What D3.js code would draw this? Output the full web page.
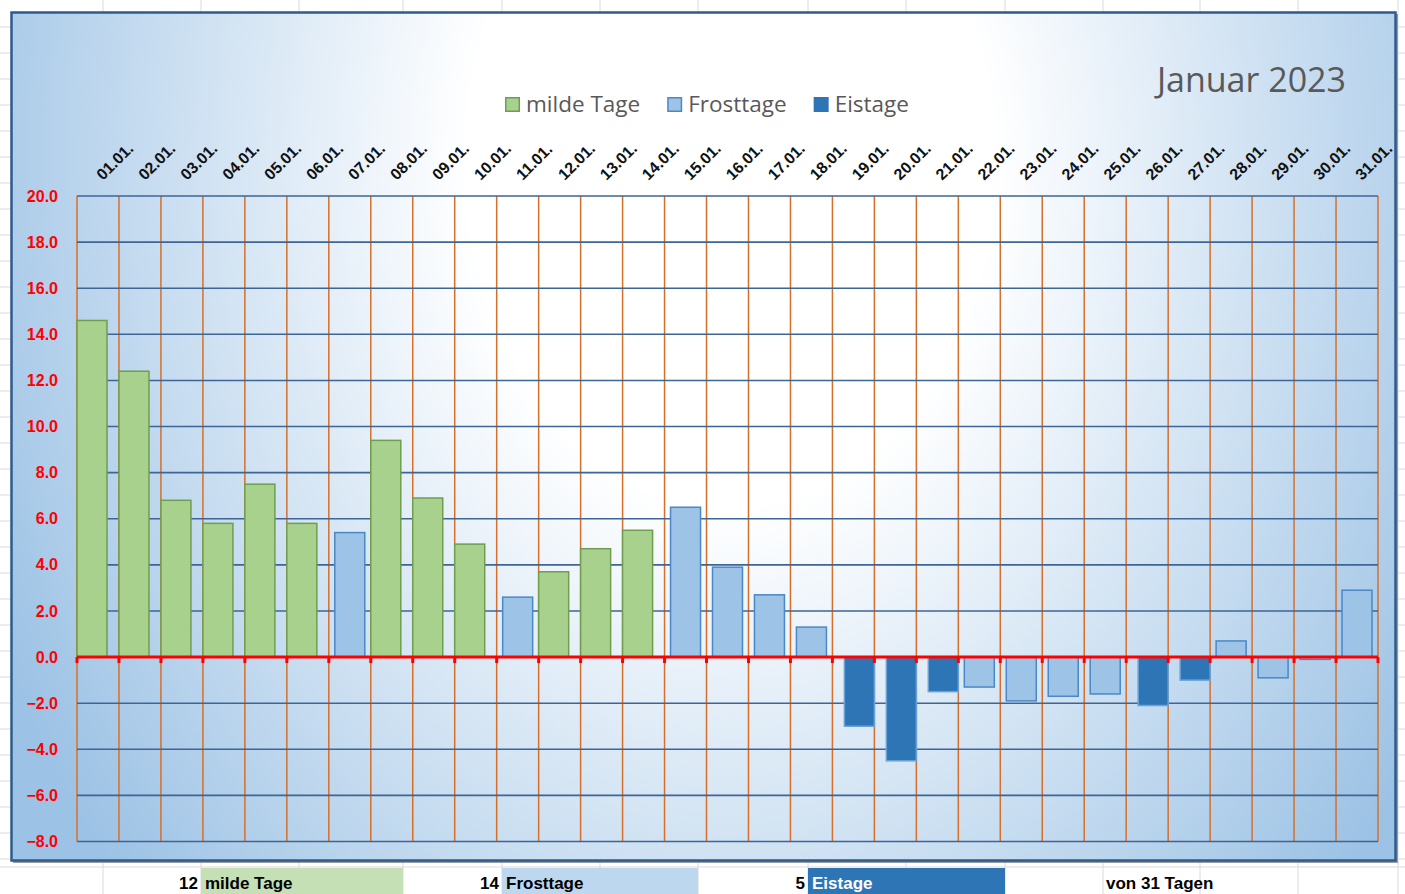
<!DOCTYPE html>
<html>
<head>
<meta charset="utf-8">
<script src="https://cdn.jsdelivr.net/npm/d3@7"></script>
<style>
  body { margin: 0; background: #fff; }
  svg { display: block; }
</style>
</head>
<body>
<div class="container"></div>
<script>
// Tageshöchstwerte Januar 2023, nach Tagesart getrennt
const days = ["01.01.", "02.01.", "03.01.", "04.01.", "05.01.", "06.01.", "07.01.", "08.01.",
  "09.01.", "10.01.", "11.01.", "12.01.", "13.01.", "14.01.", "15.01.", "16.01.", "17.01.",
  "18.01.", "19.01.", "20.01.", "21.01.", "22.01.", "23.01.", "24.01.", "25.01.", "26.01.",
  "27.01.", "28.01.", "29.01.", "30.01.", "31.01."];

const mildeTage = [14.6, 12.4, 6.8, 5.8, 7.5, 5.8, null, 9.4, 6.9, 4.9, null, 3.7, 4.7, 5.5,
  null, null, null, null, null, null, null, null, null, null, null, null, null, null, null, null, null];
const frosttage = [null, null, null, null, null, null, 5.4, null, null, null, 2.6, null, null, null,
  6.5, 3.9, 2.7, 1.3, null, null, null, -1.3, -1.9, -1.7, -1.6, null, null, 0.7, -0.9, -0.1, 2.9];
const eistage = [null, null, null, null, null, null, null, null, null, null, null, null, null, null,
  null, null, null, null, -3.0, -4.5, -1.5, null, null, null, null, -2.1, -1.0, null, null, null, null];

const seriesNames = ["milde Tage", "Frosttage", "Eistage"];
const seriesFill = ["#a9d18e", "#9dc3e6", "#2e75b6"];
const seriesStroke = ["#6f9e4e", "#4a88c7", "#6aa2d8"];
const yTicks = [-8, -6, -4, -2, 0, 2, 4, 6, 8, 10, 12, 14, 16, 18, 20];
const title = "Januar 2023";

const width = 1405, height = 894;
const plot = { left: 77, right: 1378, top: 196, bottom: 841.5 };

let svg = d3.select(".container")
  .append("svg")
  .attr("width", width)
  .attr("height", height);

// background gradient of the chart area
let defs = svg.append("defs");
let grad = defs.append("radialGradient")
  .attr("id", "bg")
  .attr("gradientUnits", "userSpaceOnUse")
  .attr("cx", 0).attr("cy", 0).attr("r", 1)
  .attr("gradientTransform", "translate(730,160) scale(820,1080)");
grad.append("stop").attr("offset", 0).attr("stop-color", "#ffffff");
grad.append("stop").attr("offset", 0.32).attr("stop-color", "#ffffff");
grad.append("stop").attr("offset", 1).attr("stop-color", "#9cc2e5");

// Excel sheet grid behind the chart
let sheetCols = [103, 201, 299, 403, 502, 600, 698, 808, 906, 1005, 1103, 1200, 1298, 1398];
svg.append("g").selectAll("line")
  .data(sheetCols)
  .enter().append("line")
  .attr("x1", d => d).attr("x2", d => d)
  .attr("y1", 0).attr("y2", height)
  .attr("stroke", "#dadada");
svg.append("g").selectAll("line")
  .data(d3.range(27, 860, 26).concat([867]))
  .enter().append("line")
  .attr("x1", 0).attr("x2", width)
  .attr("y1", d => d).attr("y2", d => d)
  .attr("stroke", "#dadada");

// chart frame
svg.append("rect")
  .attr("x", 13).attr("y", 14)
  .attr("width", 1385).attr("height", 849)
  .attr("fill", "#9a9a9a");
svg.append("rect")
  .attr("x", 11.5).attr("y", 12.5)
  .attr("width", 1384).attr("height", 848)
  .attr("fill", "url(#bg)")
  .attr("stroke", "#2f5b8c")
  .attr("stroke-width", 2.5);

let x = d3.scaleBand()
  .domain(days)
  .range([plot.left, plot.right]);

let y = d3.scaleLinear()
  .domain([-8, 20])
  .range([plot.bottom, plot.top]);

let barW = x.bandwidth() * 0.715;
let offset = d3.scaleLinear()
  .domain([0, 2])
  .range([0, x.bandwidth() - barW]);

// vertical category lines
let bounds = days.map(d => x(d)).concat([plot.right]);
svg.append("g").selectAll("line")
  .data(bounds)
  .enter().append("line")
  .attr("x1", d => d).attr("x2", d => d)
  .attr("y1", plot.top).attr("y2", plot.bottom)
  .attr("stroke", "#d4702c")
  .attr("stroke-width", 1.5);

// horizontal grid lines
svg.append("g").selectAll("line")
  .data(yTicks.filter(d => d !== 0))
  .enter().append("line")
  .attr("x1", plot.left).attr("x2", plot.right)
  .attr("y1", d => y(d)).attr("y2", d => y(d))
  .attr("stroke", "#3e6594")
  .attr("stroke-width", 1.6);

// bars
[mildeTage, frosttage, eistage].forEach((values, s) => {
  svg.append("g")
    .selectAll("rect")
    .data(values.map((v, i) => ({ day: days[i], value: v })).filter(d => d.value !== null))
    .enter().append("rect")
    .attr("x", d => x(d.day) + offset(s))
    .attr("y", d => y(Math.max(0, d.value)))
    .attr("width", barW)
    .attr("height", d => Math.abs(y(d.value) - y(0)))
    .attr("fill", seriesFill[s])
    .attr("stroke", seriesStroke[s])
    .attr("stroke-width", 1.5);
});

// zero line with tick marks
svg.append("line")
  .attr("x1", plot.left).attr("x2", plot.right)
  .attr("y1", y(0)).attr("y2", y(0))
  .attr("stroke", "#ff0000")
  .attr("stroke-width", 3);
svg.append("g").selectAll("line")
  .data(bounds)
  .enter().append("line")
  .attr("x1", d => d).attr("x2", d => d)
  .attr("y1", y(0)).attr("y2", y(0) + 6)
  .attr("stroke", "#ff0000")
  .attr("stroke-width", 3);

// y axis labels
let yAxis = svg.append("g")
  .attr("transform", `translate(${plot.left},0)`)
  .call(d3.axisLeft(y).tickValues(yTicks).tickFormat(d3.format(".1f")).tickSize(0).tickPadding(19));
yAxis.select(".domain").remove();
yAxis.selectAll("text")
  .attr("fill", "#ff0000")
  .style("font-family", "'Liberation Sans', Arial, sans-serif")
  .style("font-weight", "bold")
  .style("font-size", "16px");

// x axis labels on top, rotated
let xAxis = svg.append("g")
  .attr("transform", `translate(0,${plot.top})`)
  .call(d3.axisTop(x).tickSize(0));
xAxis.select(".domain").remove();
xAxis.selectAll("text")
  .attr("x", 0).attr("y", 0).attr("dy", 0)
  .attr("text-anchor", "start")
  .attr("transform", "translate(5,-15) rotate(-45)")
  .attr("fill", "#111")
  .style("font-family", "'Liberation Sans', Arial, sans-serif")
  .style("font-weight", "bold")
  .style("font-size", "16px");

// legend
let legend = svg.append("g")
  .attr("transform", "translate(505,97)");
let lx = 0;
seriesNames.forEach((name, i) => {
  let item = legend.append("g").attr("transform", `translate(${lx},0)`);
  item.append("rect")
    .attr("x", 0.75).attr("y", 0.75)
    .attr("width", 13.5).attr("height", 13.5)
    .attr("fill", seriesFill[i])
    .attr("stroke", i === 2 ? seriesFill[i] : seriesStroke[i])
    .attr("stroke-width", 1.5);
  let t = item.append("text")
    .attr("x", 21)
    .attr("y", 15)
    .attr("fill", "#595959")
    .style("font-family", "'Open Sans', sans-serif")
    .style("font-size", "22.5px")
    .text(name);
  lx += 21 + t.node().getComputedTextLength() + 27;
});

// title
svg.append("text")
  .attr("x", 1346)
  .attr("y", 92)
  .attr("text-anchor", "end")
  .attr("fill", "#595959")
  .style("font-family", "'Open Sans', sans-serif")
  .style("font-size", "34px")
  .text(title);

// summary row below the chart
let counts = [mildeTage, frosttage, eistage].map(a => a.filter(v => v !== null).length);
let cells = [
  { x0: 201, x1: 403, fill: "#c5e0b4", color: "#000" },
  { x0: 502, x1: 698, fill: "#bdd7ee", color: "#000" },
  { x0: 808, x1: 1005, fill: "#2e75b6", color: "#fff" }
];
let row = svg.append("g");
cells.forEach((c, i) => {
  row.append("rect")
    .attr("x", c.x0).attr("y", 868)
    .attr("width", c.x1 - c.x0).attr("height", 26)
    .attr("fill", c.fill);
  row.append("text")
    .attr("x", c.x0 - 3).attr("y", 889)
    .attr("text-anchor", "end")
    .attr("fill", "#000")
    .text(counts[i]);
  row.append("text")
    .attr("x", c.x0 + 4).attr("y", 889)
    .attr("fill", c.color)
    .text(seriesNames[i]);
});
row.append("text")
  .attr("x", 1106).attr("y", 889)
  .attr("fill", "#000")
  .text(`von ${days.length} Tagen`);
row.selectAll("text")
  .style("font-family", "'Liberation Sans', sans-serif")
  .style("font-weight", "bold")
  .style("font-size", "17px");
</script>
</body>
</html>
